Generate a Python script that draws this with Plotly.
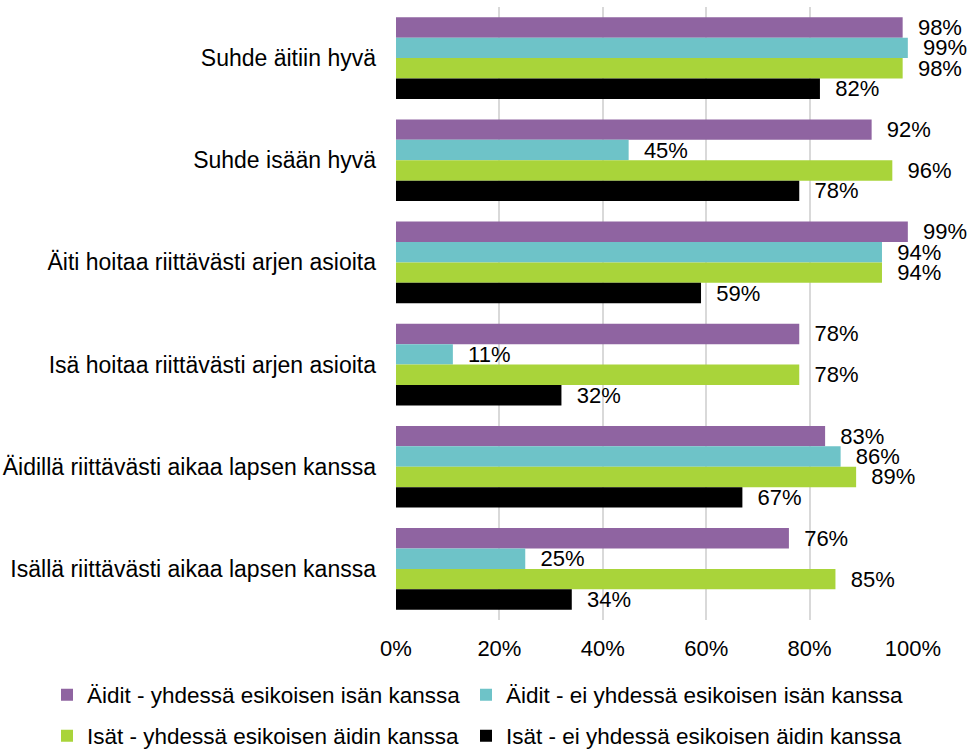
import plotly.graph_objects as go

categories = [
    "Suhde äitiin hyvä",
    "Suhde isään hyvä",
    "Äiti hoitaa riittävästi arjen asioita",
    "Isä hoitaa riittävästi arjen asioita",
    "Äidillä riittävästi aikaa lapsen kanssa",
    "Isällä riittävästi aikaa lapsen kanssa",
]
series_names = [
    "Äidit - yhdessä esikoisen isän kanssa",
    "Äidit - ei yhdessä esikoisen isän kanssa",
    "Isät - yhdessä esikoisen äidin kanssa",
    "Isät - ei yhdessä esikoisen äidin kanssa",
]
aidit_yhdessa = [98, 92, 99, 78, 83, 76]
aidit_ei_yhdessa = [99, 45, 94, 11, 86, 25]
isat_yhdessa = [98, 96, 94, 78, 89, 85]
isat_ei_yhdessa = [82, 78, 59, 32, 67, 34]
x_ticks = [0, 20, 40, 60, 80, 100]
x_tick_labels = ["0%", "20%", "40%", "60%", "80%", "100%"]

values = [aidit_yhdessa, aidit_ei_yhdessa, isat_yhdessa, isat_ei_yhdessa]
colors = ["#8F64A1", "#6EC3C8", "#A9D43A", "#000000"]
legend_ids = ["legend", "legend2", "legend3", "legend4"]
# legend item placement (legend box left x px, row centre y px)
legend_pos = [(47, 695), (466, 695), (47, 736), (466, 736)]

FONT = "Liberation Sans, Arial, sans-serif"

W, H = 971, 749
L, R, T, B = 396, 58, 7, 129
PW = W - L - R
PH = H - T - B

fig = go.Figure()
for name, vals, col, lg in zip(series_names, values, colors, legend_ids):
    fig.add_trace(go.Bar(
        y=categories, x=vals, name=name, orientation="h",
        marker=dict(color=col, line=dict(width=0)),
        text=[f"\u00a0\u00a0{v}%" for v in vals],
        textposition="outside", cliponaxis=False, constraintext="none",
        textfont=dict(size=22, color="#000000", family=FONT),
        legend=lg, hoverinfo="skip",
    ))

def leg(xpix, ypix):
    return dict(orientation="h", x=(xpix - L) / PW, y=-(ypix - (T + PH)) / PH,
                xref="paper", yref="paper", xanchor="left", yanchor="middle",
                font=dict(size=22.5, family=FONT, color="#000000"),
                itemwidth=30, bgcolor="rgba(0,0,0,0)", borderwidth=0)

legend_layout = {lid: leg(px, py) for lid, (px, py) in zip(legend_ids, legend_pos)}

fig.update_layout(
    width=W, height=H,
    margin=dict(l=L, r=R, t=T, b=B, autoexpand=False),
    paper_bgcolor="white", plot_bgcolor="white",
    barmode="group", bargap=0.2, bargroupgap=0,
    font=dict(family=FONT, size=22, color="#000000"),
    xaxis=dict(range=[0, 100], tickvals=x_ticks, ticktext=x_tick_labels,
               showgrid=True, gridcolor="#D9D9D9", gridwidth=2,
               zeroline=False, showline=False, ticks="", automargin=False,
               tickfont=dict(size=22), ticklabelstandoff=13),
    yaxis=dict(autorange="reversed", showgrid=False, zeroline=False,
               showline=False, ticks="", automargin=False,
               tickfont=dict(size=23), ticklabelstandoff=19),
    showlegend=True,
    **legend_layout,
)

fig.write_html("out.html", config={"displayModeBar": False},
               post_script="document.body.style.margin='0';")
